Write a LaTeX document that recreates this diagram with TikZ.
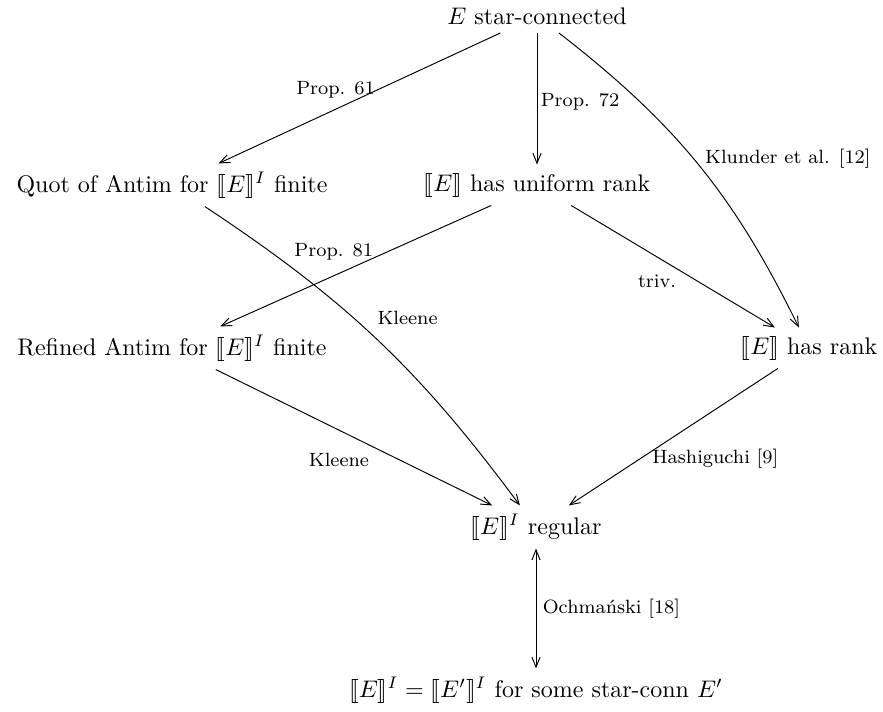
\documentclass[tikz,border=0pt]{standalone}
\usepackage{stmaryrd}
\usetikzlibrary{arrows.meta}
\begin{document}
\begin{tikzpicture}[x=0.4167pt,y=-0.4167pt,
  box/.style={inner sep=3.33pt},
  lbl/.style={font=\footnotesize, inner sep=1pt},
  arr/.style={-{Straight Barb[length=4.2pt,width=3.4pt]}},
  darr/.style={{Straight Barb[length=4.2pt,width=3.4pt]}-{Straight Barb[length=4.2pt,width=3.4pt]}}]
\useasboundingbox (0,0) rectangle (883,711);
\node[box] (top) at (537,16) {$E$ star-connected};
\node[box] (quot) at (172,185) {Quot of Antim for $\llbracket E\rrbracket^I$ finite};
\node[box] (unif) at (537,185) {$\llbracket E\rrbracket$ has uniform rank};
\node[box] (ref) at (172,348) {Refined Antim for $\llbracket E\rrbracket^I$ finite};
\node[box] (rank) at (809,348) {$\llbracket E\rrbracket$ has rank};
\node[box] (reg) at (536,527) {$\llbracket E\rrbracket^I$ regular};
\node[box] (bot) at (536,690) {$\llbracket E\rrbracket^I=\llbracket E'\rrbracket^I$ for some star-conn $E'$};
\draw[arr] (top) -- node[lbl, shift={(-24,-8)}] {Prop. 61} (quot);
\draw[arr] (top) -- node[lbl, shift={(43,3)}] {Prop. 72} (unif);
\draw[arr] (top) to[bend left=13] node[lbl, right, shift={(4,-6)}] {Klunder et al. [12]} (rank);
\draw[arr] (quot) to[bend left=10] node[lbl, shift={(30,-22)}] {Kleene} (reg);
\draw[arr] (unif) -- node[lbl, shift={(-22,-14)}] {Prop. 81} (ref);
\draw[arr] (unif) -- node[lbl, shift={(-16,15)}] {triv.} (rank);
\draw[arr] (ref) -- node[lbl, shift={(-15,22)}] {Kleene} (reg);
\draw[arr] (rank) -- node[lbl, shift={(42,22)}] {Hashiguchi [9]} (reg);
\draw[darr] (reg) -- node[lbl, right, shift={(4,0)}] {Ochmański [18]} (reg |- bot.north);
\end{tikzpicture}
\end{document}
